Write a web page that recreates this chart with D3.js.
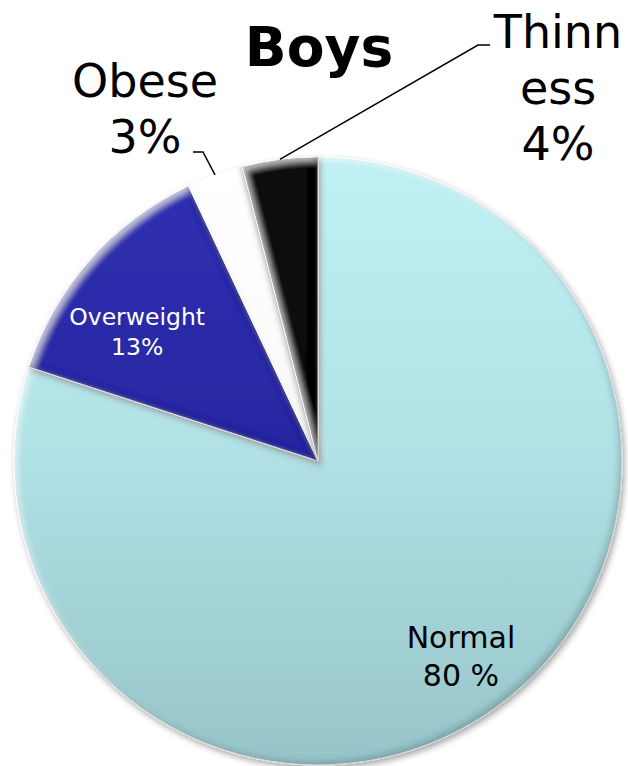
<!DOCTYPE html>
<html>
<head>
<meta charset="utf-8">
<script src="https://cdn.jsdelivr.net/npm/d3@7"></script>
<style>
    html, body { margin: 0; padding: 0; background: #fff; }
    svg { display: block; font-family: "DejaVu Sans", Verdana, sans-serif; }
</style>
</head>
<body>
<script>
// data
const categories = ["Normal", "Overweight", "Obese", "Thinness"];
const values = [80, 13, 3, 4];
const labelLines = [["Normal", "80 %"], ["Overweight", "13%"], ["Obese", "3%"], ["Thinn", "ess", "4%"]];
const title = "Boys";

run();

function run() {
    let width = 628;
    let height = 766;
    let cx = 318, cy = 461, r = 304;

    let svg = d3.select("body")
        .append("svg")
        .attr("width", width)
        .attr("height", height);

    let defs = svg.append("defs");
    makeDefs(defs, r);

    let fills = {
        "Normal": "url(#gNormal)",
        "Overweight": "url(#gOver)",
        "Obese": "url(#gObese)",
        "Thinness": "url(#gThin)"
    };

    let pie = d3.pie().sort(null).value(function (d) { return d.value; });
    let arcs = pie(categories.map(function (c, i) {
        return { name: c, value: values[i], lines: labelLines[i] };
    }));

    let arc = d3.arc().innerRadius(0).outerRadius(r);

    let g = svg.append("g")
        .attr("transform", "translate(" + cx + "," + cy + ")");

    g.selectAll(".slice")
        .data(arcs)
        .enter()
        .append("path")
        .attr("class", "slice")
        .attr("d", arc)
        .attr("fill", function (d) { return fills[d.data.name]; })
        .attr("stroke", "#fff")
        .attr("stroke-width", 1)
        .attr("filter", "url(#bevel)");

    // labels inside the big slices
    let inside = {
        "Normal": { k: 0.8, da: 0, color: "#000", size: 30, lh: 38 },
        "Overweight": { k: 0.73, da: -6, color: "#fff", size: 23.5, lh: 30 }
    };
    arcs.forEach(function (d) {
        let o = inside[d.data.name];
        if (!o) return;
        let a = (d.startAngle + d.endAngle) / 2 + o.da * Math.PI / 180;
        let x = Math.sin(a) * r * o.k;
        let y = -Math.cos(a) * r * o.k;
        let n = d.data.lines.length;
        let t = g.append("text")
            .attr("text-anchor", "middle")
            .attr("font-size", o.size + "px")
            .attr("fill", o.color);
        d.data.lines.forEach(function (line, i) {
            t.append("tspan")
                .attr("x", x)
                .attr("y", y + (i - (n - 1) / 2) * o.lh + o.size * 0.3)
                .text(line);
        });
    });

    // outside labels with leader lines
    let outsideCfg = {
        "Obese": { elbow: [-115, -309], end: [-125, -309], tx: -173, base: -364 },
        "Thinness": { elbow: [160, -416], end: [172, -416], tx: 240, base: -413 }
    };
    arcs.forEach(function (d) {
        let o = outsideCfg[d.data.name];
        if (!o) return;
        let a = (d.startAngle + d.endAngle) / 2;
        let px = Math.sin(a) * r, py = -Math.cos(a) * r;
        g.append("path")
            .attr("d", d3.line()([[px, py], o.elbow, o.end]))
            .attr("fill", "none")
            .attr("stroke", "#000")
            .attr("stroke-width", 1.5);
        let t = g.append("text")
            .attr("text-anchor", "middle")
            .attr("font-size", "46px")
            .attr("fill", "#000");
        d.data.lines.forEach(function (line, i) {
            t.append("tspan")
                .attr("x", o.tx)
                .attr("y", o.base + i * 56)
                .text(line);
        });
    });

    svg.append("text")
        .attr("x", 319)
        .attr("y", 66)
        .attr("text-anchor", "middle")
        .attr("font-size", "55px")
        .attr("font-weight", "bold")
        .text(title);
}

function makeDefs(defs, r) {
    // gradients are in the slice group's own space (centred on the pie)
    let grad = function (id, stops) {
        let lg = defs.append("linearGradient")
            .attr("id", id)
            .attr("gradientUnits", "userSpaceOnUse")
            .attr("x1", 0).attr("y1", -r)
            .attr("x2", 0).attr("y2", r);
        stops.forEach(function (s) {
            lg.append("stop").attr("offset", s[0]).attr("stop-color", s[1]);
        });
    };
    grad("gNormal", [[0, "#bff0f3"], [0.45, "#b2e3e7"], [1, "#97c4c9"]]);
    grad("gOver", [[0, "#3030b2"], [0.5, "#2727a2"], [1, "#20208e"]]);
    grad("gObese", [[0, "#ffffff"], [1, "#f2f2f2"]]);
    grad("gThin", [[0, "#0a0a0a"], [1, "#000000"]]);

    let f = defs.append("filter")
        .attr("id", "bevel")
        .attr("x", "-10%").attr("y", "-10%")
        .attr("width", "120%").attr("height", "120%");
    f.append("feGaussianBlur").attr("in", "SourceAlpha").attr("stdDeviation", 3).attr("result", "blur");
    // drop shadow
    f.append("feOffset").attr("in", "blur").attr("dx", 2).attr("dy", 3).attr("result", "off");
    f.append("feFlood").attr("flood-color", "#000").attr("flood-opacity", 0.35);
    f.append("feComposite").attr("in2", "off").attr("operator", "in").attr("result", "drop");
    // highlight on top-left edges
    f.append("feOffset").attr("in", "blur").attr("dx", 4).attr("dy", 4).attr("result", "o1");
    f.append("feComposite").attr("in", "SourceAlpha").attr("in2", "o1")
        .attr("operator", "arithmetic").attr("k2", 1).attr("k3", -1).attr("result", "hiA");
    f.append("feFlood").attr("flood-color", "#fff").attr("flood-opacity", 0.55);
    f.append("feComposite").attr("in2", "hiA").attr("operator", "in").attr("result", "hi");
    // shade on bottom-right edges
    f.append("feOffset").attr("in", "blur").attr("dx", -4).attr("dy", -4).attr("result", "o2");
    f.append("feComposite").attr("in", "SourceAlpha").attr("in2", "o2")
        .attr("operator", "arithmetic").attr("k2", 1).attr("k3", -1).attr("result", "shA");
    f.append("feFlood").attr("flood-color", "#000").attr("flood-opacity", 0.35);
    f.append("feComposite").attr("in2", "shA").attr("operator", "in").attr("result", "sh");
    let m = f.append("feMerge");
    m.append("feMergeNode").attr("in", "drop");
    m.append("feMergeNode").attr("in", "SourceGraphic");
    m.append("feMergeNode").attr("in", "hi");
    m.append("feMergeNode").attr("in", "sh");
}
</script>
</body>
</html>
